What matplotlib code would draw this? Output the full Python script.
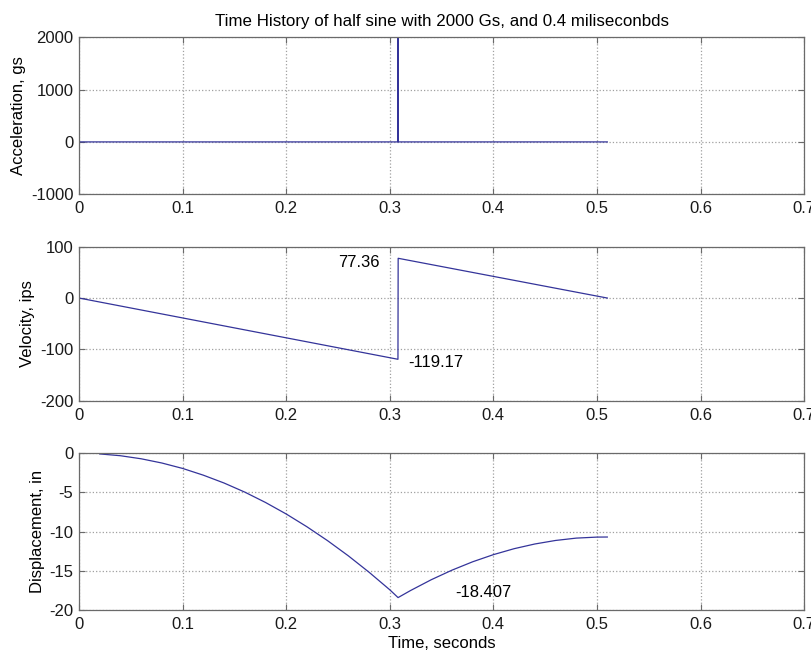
import numpy as np
import matplotlib; matplotlib.use('Agg')
from matplotlib import pyplot as plt

plt.rcParams['font.family'] = ['Liberation Sans', 'DejaVu Sans']
plt.rcParams['axes.unicode_minus'] = False

# acceleration (gs): flat, one narrow half-sine spike near 0.308 s
accTime = [0.0, 0.3078, 0.3080, 0.3082, 0.51]
accGs = [0, 0, 2000, 0, 0]

# velocity (ips)
velTime = [0.0, 0.3079, 0.3081, 0.51]
velIps = [0.0, -119.17, 77.36, 0.0]

# displacement (in)
dispTime = [0.02, 0.04, 0.06, 0.08, 0.10, 0.12, 0.14, 0.16, 0.18, 0.20,
            0.22, 0.24, 0.26, 0.28, 0.30, 0.308, 0.32, 0.34, 0.36, 0.38,
            0.40, 0.42, 0.44, 0.46, 0.48, 0.50, 0.51]
dispIn = [-0.08, -0.31, -0.70, -1.24, -1.93, -2.79, -3.79, -4.95, -6.27, -7.74,
          -9.37, -11.15, -13.08, -15.17, -17.41, -18.407, -17.51, -16.13,
          -14.91, -13.84, -12.93, -12.17, -11.57, -11.12, -10.82, -10.69,
          -10.68]

xTicks = [0, 0.1, 0.2, 0.3, 0.4, 0.5, 0.6, 0.7]
xTickLabels = ['0', '0.1', '0.2', '0.3', '0.4', '0.5', '0.6', '0.7']

lineColor = '#34349a'
frameColor = '#6a6a6a'
fs = 12

fig = plt.figure(figsize=(8.12, 6.56), dpi=100)
left, width = 0.0973, 0.893
ax1 = fig.add_axes([left, 0.704, width, 0.239])
ax2 = fig.add_axes([left, 0.389, width, 0.235])
ax3 = fig.add_axes([left, 0.070, width, 0.239])

def style(ax, yticks):
    ax.set_xlim(0, 0.7)
    ax.set_xticks(xTicks)
    ax.set_xticklabels(xTickLabels)
    ax.set_ylim(yticks[0], yticks[-1])
    ax.set_yticks(yticks)
    ax.grid(True, linestyle=':', color='#a0a0a0', linewidth=0.9)
    ax.tick_params(direction='in', top=True, right=True, length=4,
                   width=0.8, color=frameColor, labelsize=fs,
                   labelcolor='#1a1a1a')
    ax.tick_params(axis='x', pad=5)
    ax.tick_params(axis='y', pad=4)
    for sp in ax.spines.values():
        sp.set_color(frameColor)
        sp.set_linewidth(0.9)

ax1.plot(accTime, accGs, color=lineColor, lw=0.9)
style(ax1, [-1000, 0, 1000, 2000])
ax1.set_ylabel('Acceleration, gs', fontsize=fs)
ax1.set_title('Time History of half sine with 2000 Gs, and 0.4 miliseconbds',
              fontsize=12.2, pad=8)

ax2.plot(velTime, velIps, color=lineColor, lw=0.9)
style(ax2, [-200, -100, 0, 100])
ax2.set_ylabel('Velocity, ips', fontsize=fs)
ax2.text(0.250, 70, '77.36', fontsize=fs, va='center', ha='left')
ax2.text(0.318, -125, '-119.17', fontsize=fs, va='center', ha='left')

ax3.plot(dispTime, dispIn, color=lineColor, lw=0.9)
style(ax3, [-20, -15, -10, -5, 0])
ax3.set_ylabel('Displacement, in', fontsize=fs)
ax3.set_xlabel('Time, seconds', fontsize=fs, labelpad=3)
ax3.text(0.363, -17.7, '-18.407', fontsize=fs, va='center', ha='left')

for ax, x in [(ax1, -0.073), (ax2, -0.061), (ax3, -0.047)]:
    ax.yaxis.set_label_coords(x, 0.5)

fig.savefig('out.png', dpi=100)
